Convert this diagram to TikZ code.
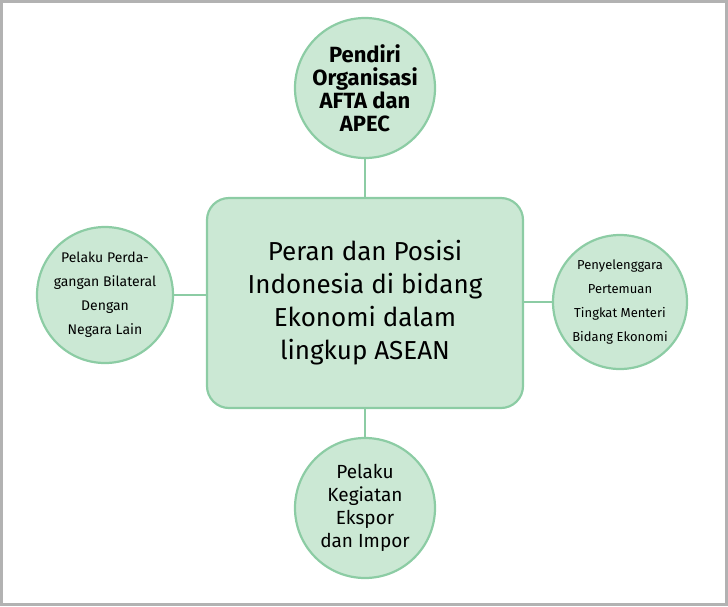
\documentclass[tikz,border=0pt]{standalone}
\usepackage{fontspec}
\setmainfont{Fira Sans}
\definecolor{gfill}{HTML}{CBE8D4}
\definecolor{gline}{HTML}{8CCCA4}
\begin{document}
\begin{tikzpicture}[x=1pt,y=-1pt,
  fillg/.style={fill=gfill, draw=gline, line width=2.2pt},
  circ/.style={fillg, circle, minimum size=#1, inner sep=0pt, align=center},
  conn/.style={draw=gline, line width=2pt}]
\useasboundingbox (0,0) rectangle (728,606);
\draw[gray!60, line width=3pt] (1.5,1.5) rectangle (726.5,604.5);
\node[fillg, rounded corners=22pt, minimum width=316pt, minimum height=210pt, align=center,
  font=\fontsize{26}{33}\selectfont] (c) at (365,303) {Peran dan Posisi\\Indonesia di bidang\\Ekonomi dalam\\lingkup ASEAN};
\node[circ=140pt, font=\fontsize{22}{23}\selectfont\bfseries] (t) at (365,88) {Pendiri\\Organisasi\\AFTA dan\\APEC};
\node[circ=136pt, font=\fontsize{14}{24}\selectfont] (l) at (105,295) {Pelaku Perda-\\gangan Bilateral\\Dengan\\Negara Lain};
\node[circ=134pt, font=\fontsize{13}{24}\selectfont] (r) at (620,302) {Penyelenggara\\Pertemuan\\Tingkat Menteri\\Bidang Ekonomi};
\node[circ=140pt, font=\fontsize{19}{23}\selectfont] (b) at (365,508) {Pelaku\\Kegiatan\\Ekspor\\dan Impor};
\draw[conn] (t.south) -- (c.north);
\draw[conn] (c.south) -- (b.north);
\draw[conn] (l.east) -- (l.east -| c.west);
\draw[conn] (r.west) -- (r.west -| c.east);
\end{tikzpicture}
\end{document}
